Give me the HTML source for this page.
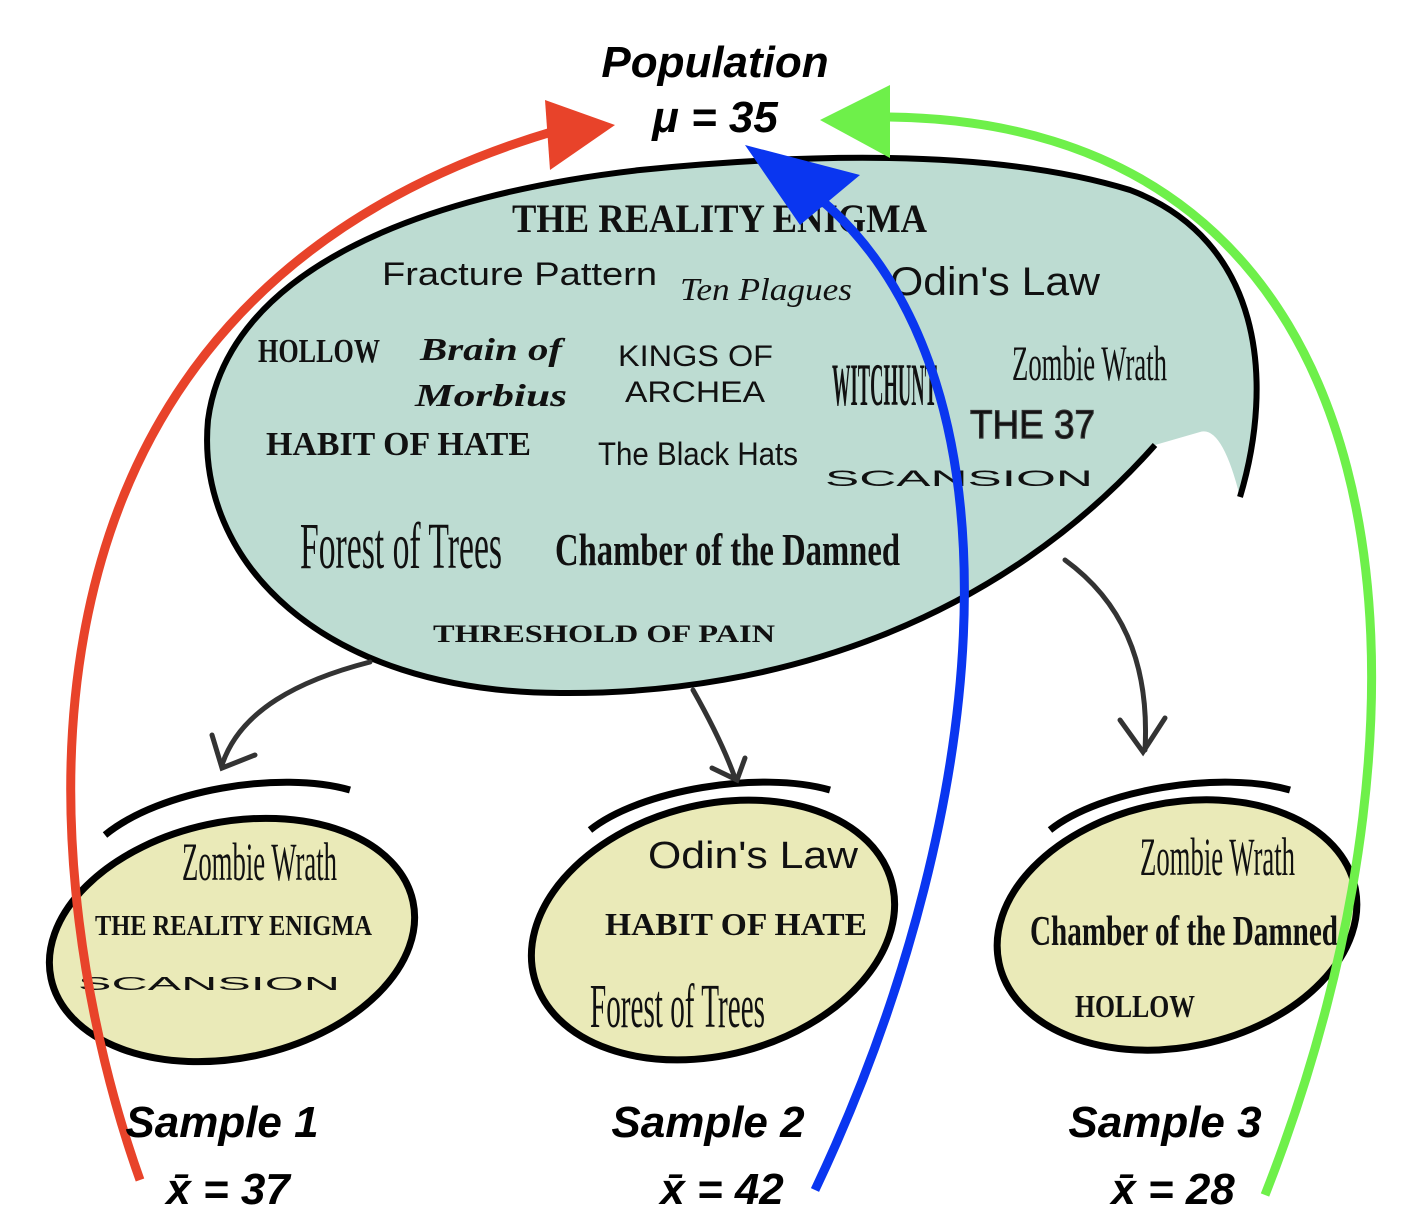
<!DOCTYPE html>
<html><head><meta charset="utf-8"><style>
body{margin:0;background:#fff;width:1414px;height:1232px;overflow:hidden}
svg{display:block}
.c{font-family:"Liberation Sans",sans-serif;font-weight:bold;font-style:italic;fill:#000}
.s{font-family:"Liberation Serif",serif;fill:#111}
.n{font-family:"Liberation Sans",sans-serif;fill:#111}
</style></head><body>
<svg width="1414" height="1232" viewBox="0 0 1414 1232" xmlns="http://www.w3.org/2000/svg">
<path d="M1240,497 C1275,380 1262,240 1130,190 C1000,150 820,152 640,170 C420,195 228,270 208,420 C195,560 320,692 560,693 C780,695 1000,620 1155,445 L1200,432 Q1222,425 1240,497 Z" fill="#bddcd2"/>
<path d="M1240,497 C1275,380 1262,240 1130,190 C1000,150 820,152 640,170 C420,195 228,270 208,420 C195,560 320,692 560,693 C780,695 1000,620 1155,445" fill="none" stroke="#000" stroke-width="6"/>
<ellipse cx="232" cy="940" rx="185" ry="118" transform="rotate(-12 232 940)" fill="#eaeab8" stroke="#000" stroke-width="7"/>
<path d="M105,835 C160,790 280,770 350,790" fill="none" stroke="#000" stroke-width="7"/>
<ellipse cx="713" cy="930" rx="185" ry="125" transform="rotate(-15 713 930)" fill="#eaeab8" stroke="#000" stroke-width="7"/>
<path d="M590,830 C640,790 760,770 830,790" fill="none" stroke="#000" stroke-width="7"/>
<ellipse cx="1177" cy="925" rx="182" ry="122" transform="rotate(-12 1177 925)" fill="#eaeab8" stroke="#000" stroke-width="7"/>
<path d="M1050,830 C1100,790 1220,770 1290,790" fill="none" stroke="#000" stroke-width="7"/>
<g fill="none" stroke="#333" stroke-width="5" stroke-linecap="round">
<path d="M370,662 C300,680 240,710 222,765"/><path d="M212,735 L222,768 L255,755"/>
<path d="M693,690 C710,720 725,750 735,778"/><path d="M712,768 L737,780 L745,758"/>
<path d="M1065,560 C1120,600 1150,660 1145,750"/><path d="M1120,720 L1143,752 L1165,718"/>
</g>
<g lengthAdjust="spacingAndGlyphs">
<text x="512" y="232" class="s" font-size="40" font-weight="bold" textLength="415" lengthAdjust="spacingAndGlyphs">THE REALITY ENIGMA</text>
<text x="382" y="285" class="n" font-size="32" textLength="275" lengthAdjust="spacingAndGlyphs">Fracture Pattern</text>
<text x="680" y="300" class="s" font-size="32" font-style="italic" fill="#2a4a40" textLength="172" lengthAdjust="spacingAndGlyphs">Ten Plagues</text>
<text x="890" y="295" class="n" font-size="40" textLength="210" lengthAdjust="spacingAndGlyphs">Odin's Law</text>
<text x="258" y="362" class="s" font-size="34" font-weight="bold" textLength="122" lengthAdjust="spacingAndGlyphs">HOLLOW</text>
<text x="420" y="360" class="s" font-size="32" font-weight="bold" font-style="italic" textLength="142" lengthAdjust="spacingAndGlyphs">Brain of</text>
<text x="415" y="406" class="s" font-size="32" font-weight="bold" font-style="italic" textLength="152" lengthAdjust="spacingAndGlyphs">Morbius</text>
<text x="618" y="366" class="n" font-size="30" textLength="155" lengthAdjust="spacingAndGlyphs">KINGS OF</text>
<text x="625" y="402" class="n" font-size="30" textLength="140" lengthAdjust="spacingAndGlyphs">ARCHEA</text>
<text x="832" y="405" class="s" font-size="60" font-weight="bold" textLength="105" lengthAdjust="spacingAndGlyphs">WITCHUNT</text>
<text x="1012" y="380" class="s" font-size="50" textLength="155" lengthAdjust="spacingAndGlyphs">Zombie Wrath</text>
<text x="970" y="438" class="n" font-size="40" fill="#bddcd2" stroke="#333" stroke-width="1.2" textLength="125" lengthAdjust="spacingAndGlyphs">THE 37</text>
<text x="266" y="455" class="s" font-size="34" font-weight="bold" textLength="265" lengthAdjust="spacingAndGlyphs">HABIT OF HATE</text>
<text x="598" y="465" class="n" font-size="32" textLength="200" lengthAdjust="spacingAndGlyphs">The Black Hats</text>
<text x="825" y="486" class="n" font-size="22" textLength="268" lengthAdjust="spacingAndGlyphs">SCANSION</text>
<text x="300" y="568" class="s" font-size="66" textLength="202" lengthAdjust="spacingAndGlyphs">Forest of Trees</text>
<text x="555" y="565" class="s" font-size="46" font-weight="bold" textLength="345" lengthAdjust="spacingAndGlyphs">Chamber of the Damned</text>
<text x="433" y="642" class="s" font-size="25" font-weight="bold" textLength="342" lengthAdjust="spacingAndGlyphs">THRESHOLD OF PAIN</text>
<text x="182" y="880" class="s" font-size="54" textLength="155" lengthAdjust="spacingAndGlyphs">Zombie Wrath</text>
<text x="95" y="935" class="s" font-size="28" font-weight="bold" textLength="277" lengthAdjust="spacingAndGlyphs">THE REALITY ENIGMA</text>
<text x="78" y="990" class="n" font-size="18" textLength="262" lengthAdjust="spacingAndGlyphs">SCANSION</text>
<text x="648" y="868" class="n" font-size="38" textLength="210" lengthAdjust="spacingAndGlyphs">Odin's Law</text>
<text x="605" y="935" class="s" font-size="32" font-weight="bold" textLength="262" lengthAdjust="spacingAndGlyphs">HABIT OF HATE</text>
<text x="590" y="1027" class="s" font-size="62" textLength="175" lengthAdjust="spacingAndGlyphs">Forest of Trees</text>
<text x="1140" y="875" class="s" font-size="54" textLength="155" lengthAdjust="spacingAndGlyphs">Zombie Wrath</text>
<text x="1030" y="945" class="s" font-size="42" font-weight="bold" textLength="308" lengthAdjust="spacingAndGlyphs">Chamber of the Damned</text>
<text x="1075" y="1017" class="s" font-size="32" font-weight="bold" textLength="120" lengthAdjust="spacingAndGlyphs">HOLLOW</text>
</g>
<path d="M140,1180 C40,900 -40,300 565,128" fill="none" stroke="#e8432a" stroke-width="9"/>
<polygon points="545,100 615,125 550,170" fill="#e8432a"/>
<path d="M815,1190 C1000,800 1040,330 780,170" fill="none" stroke="#0a36f0" stroke-width="9"/>
<polygon points="745,145 860,175 800,225" fill="#0a36f0"/>
<path d="M1265,1195 C1460,700 1420,110 870,117" fill="none" stroke="#6ef04a" stroke-width="9"/>
<polygon points="820,120 890,85 890,158" fill="#6ef04a"/>
<text x="715" y="77" class="c" font-size="44" text-anchor="middle">Population</text>
<text x="715" y="132" class="c" font-size="44" text-anchor="middle">μ = 35</text>
<text x="222" y="1137" class="c" font-size="44" text-anchor="middle">Sample 1</text>
<text x="228" y="1204" class="c" font-size="44" text-anchor="middle">x̄ = 37</text>
<text x="708" y="1137" class="c" font-size="44" text-anchor="middle">Sample 2</text>
<text x="722" y="1204" class="c" font-size="44" text-anchor="middle">x̄ = 42</text>
<text x="1165" y="1137" class="c" font-size="44" text-anchor="middle">Sample 3</text>
<text x="1173" y="1204" class="c" font-size="44" text-anchor="middle">x̄ = 28</text>
</svg>
</body></html>
